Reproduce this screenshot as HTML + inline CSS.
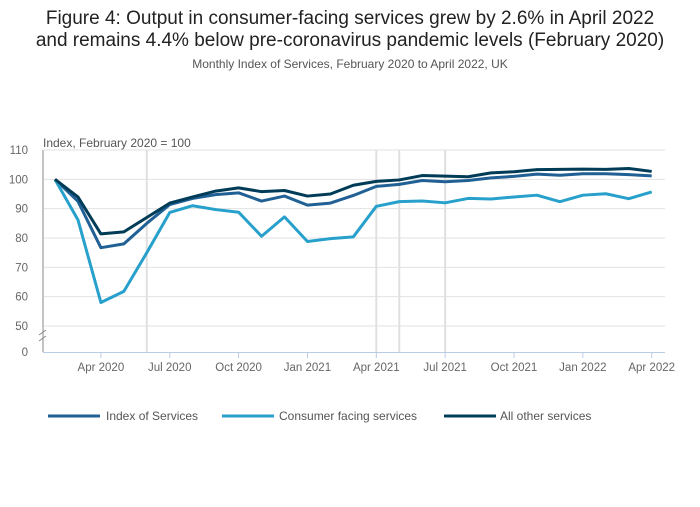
<!DOCTYPE html>
<html><head><meta charset="utf-8"><style>
body{margin:0;background:#fff;font-family:"Liberation Sans",sans-serif;}
svg text{font-family:"Liberation Sans",sans-serif;}
</style></head><body>
<svg width="700" height="502">
<text x="350" y="24" text-anchor="middle" font-size="19" fill="#222">Figure 4: Output in consumer-facing services grew by 2.6% in April 2022</text>
<text x="350" y="46" text-anchor="middle" font-size="19" fill="#222">and remains 4.4% below pre-coronavirus pandemic levels (February 2020)</text>
<text x="350" y="68" text-anchor="middle" font-size="12" fill="#555">Monthly Index of Services, February 2020 to April 2022, UK</text>
<text x="43" y="147" font-size="12" fill="#555">Index, February 2020 = 100</text>
<g id="grid"></g><g id="series"></g><g id="xaxis"></g>
<g>
<line x1="48" y1="416" x2="100" y2="416" stroke="#206095" stroke-width="3"/>
<text x="106" y="420" font-size="12" fill="#555">Index of Services</text>
<line x1="222" y1="416" x2="274" y2="416" stroke="#27a0cc" stroke-width="3"/>
<text x="279" y="420" font-size="12" fill="#555">Consumer facing services</text>
<line x1="444" y1="416" x2="496" y2="416" stroke="#003c57" stroke-width="3"/>
<text x="500" y="420" font-size="12" fill="#555">All other services</text>
</g>
</svg>
<script>
const yTicks=[0,50,60,70,80,90,100,110];
const xTickLabels=["Apr 2020","Jul 2020","Oct 2020","Jan 2021","Apr 2021","Jul 2021","Oct 2021","Jan 2022","Apr 2022"];
const xTickIdx=[2,5,8,11,14,17,20,23,26];
const refLineIdx=[4,14,15,17];
const indexServices=[100,92.5,76.7,78,85,91.4,93.5,94.8,95.4,92.6,94.3,91.2,91.9,94.5,97.6,98.3,99.6,99.2,99.6,100.5,101,101.8,101.4,101.9,101.9,101.6,101.2];
const consumerFacing=[100,86.2,58,61.8,75,88.7,91,89.7,88.8,80.6,87.2,78.8,79.8,80.4,90.8,92.4,92.6,92,93.5,93.3,94,94.6,92.4,94.6,95.1,93.4,95.7];
const allOther=[100,94,81.4,82.1,87,91.9,94,96,97.1,95.8,96.2,94.3,95,98,99.3,99.8,101.3,101.1,100.9,102.2,102.6,103.3,103.4,103.5,103.4,103.7,102.7];
const NS="http://www.w3.org/2000/svg";
function X(i){return 55+i*22.95;}
function Y(v){return v<=0?352:326-(v-50)*2.933;}
function mk(t,a,p){const e=document.createElementNS(NS,t);for(const k in a)e.setAttribute(k,a[k]);p.appendChild(e);return e;}
const grid=document.getElementById('grid'),ser=document.getElementById('series'),xa=document.getElementById('xaxis');
yTicks.forEach(v=>{
  if(v>0){const l=mk('line',{x1:44,x2:665,y1:Y(v),y2:Y(v),stroke:'#e2e2e2','stroke-width':1},grid);
  
  }
  const t=mk('text',{x:28,y:Y(v)+4,'text-anchor':'end','font-size':11.5,fill:'#666'},grid);
  
  
  t.textContent=v;
});
refLineIdx.forEach(i=>{const l=mk('line',{x1:X(i),x2:X(i),y1:150,y2:352,stroke:'#e0e0e0','stroke-width':2},grid);
  
  });
mk('line',{x1:43,x2:43,y1:150,y2:352,stroke:'#888','stroke-width':1},xa);
mk('line',{x1:39,x2:46,y1:335,y2:330,stroke:'#888'},xa);
mk('line',{x1:39,x2:46,y1:341,y2:336,stroke:'#888'},xa);
mk('line',{x1:43,x2:665,y1:352.5,y2:352.5,stroke:'#b8cce4','stroke-width':1},xa);
xTickIdx.forEach((i,k)=>{
  mk('line',{x1:X(i),x2:X(i),y1:352,y2:358,stroke:'#b8cce4'},xa);
  const t=mk('text',{x:X(i),y:371,'text-anchor':'middle','font-size':11.5,fill:'#666'},xa);
  
  
  t.textContent=xTickLabels[k];
});
[[indexServices,'#206095','index-of-services-line'],[consumerFacing,'#27a0cc','consumer-facing-line'],[allOther,'#003c57','all-other-services-line']].forEach(([d,c,n])=>{
  const p=mk('polyline',{points:d.map((v,i)=>X(i)+','+Y(v)).join(' '),fill:'none',stroke:c,'stroke-width':3,'stroke-linejoin':'round'},ser);
  
  
});
</script>
</body></html>
